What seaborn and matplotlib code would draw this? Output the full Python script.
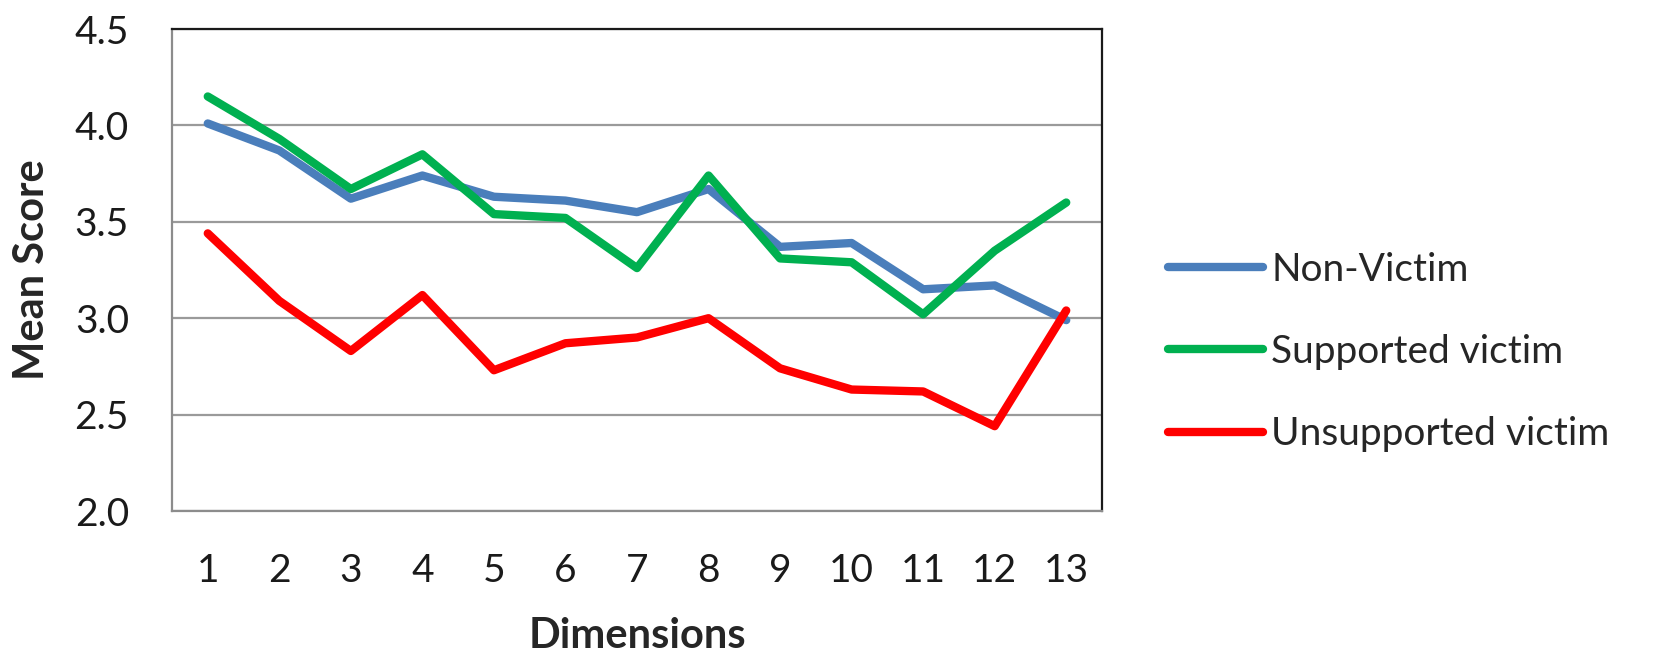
import pandas as pd
import matplotlib
matplotlib.use('Agg')
import matplotlib.pyplot as plt
import seaborn as sns

# Значения
dimensions = list(range(1, 14))
non_victim = [4.01, 3.87, 3.62, 3.74, 3.63, 3.61, 3.55, 3.67, 3.37, 3.39, 3.15, 3.17, 2.99]
supported_victim = [4.15, 3.93, 3.67, 3.85, 3.54, 3.52, 3.26, 3.74, 3.31, 3.29, 3.02, 3.35, 3.60]
unsupported_victim = [3.44, 3.09, 2.83, 3.12, 2.73, 2.87, 2.90, 3.00, 2.74, 2.63, 2.62, 2.44, 3.04]
series_names = ['Non-Victim', 'Supported victim', 'Unsupported victim']
colors = ['#4A7EBB', '#00B050', '#FF0000']
y_ticks = [2.0, 2.5, 3.0, 3.5, 4.0, 4.5]

data = pd.DataFrame({
    'Dimension': dimensions * 3,
    'Score': non_victim + supported_victim + unsupported_victim,
    'Group': [series_names[0]] * 13 + [series_names[1]] * 13 + [series_names[2]] * 13,
})

sns.set_style('white')
plt.rcParams['font.family'] = ['Lato', 'DejaVu Sans']

fig = plt.figure(figsize=(16.56, 6.53), dpi=100)
ax = fig.add_axes([172 / 1656, 1 - 511 / 653, 930 / 1656, (511 - 29) / 653])

sns.lineplot(data=data, x='Dimension', y='Score', hue='Group', palette=colors,
             linewidth=6, ax=ax, legend=True)

ax.set_xlim(0.5, 13.5)
ax.set_ylim(2.0, 4.5)
ax.set_xticks(dimensions)
ax.set_yticks(y_ticks)
ax.set_yticklabels([f'{v:.1f}' for v in y_ticks])
ax.tick_params(axis='both', length=0, labelsize=28, colors='#1a1a1a')
ax.tick_params(axis='y', pad=31)
ax.tick_params(axis='x', pad=30)
ax.yaxis.grid(True, color='#9a9a9a', linewidth=1.6)
ax.set_axisbelow(True)

for side in ['left', 'bottom']:
    ax.spines[side].set_color('#8c8c8c')
    ax.spines[side].set_linewidth(1.6)
for side in ['top', 'right']:
    ax.spines[side].set_color('#1a1a1a')
    ax.spines[side].set_linewidth(1.6)

# Подписи осей
ax.set_xlabel('Dimensions', fontsize=30, fontweight='bold', va='center')
ax.set_ylabel('Mean Score', fontsize=30, fontweight='bold', va='center')
ax.xaxis.set_label_coords(0.5, (511 - 636) / 482)
ax.yaxis.set_label_coords((32 - 172) / 930, 0.5)

leg = ax.legend(loc='center left', bbox_to_anchor=(1168 / 1656, 1 - 352 / 653),
                bbox_transform=fig.transFigure, frameon=False, fontsize=28,
                handlelength=2.45, handletextpad=0.2, labelspacing=1.19,
                borderpad=0, borderaxespad=0)
for line in leg.get_lines():
    line.set_linewidth(6)
    line.set_solid_capstyle('round')

fig.savefig('out.png', dpi=100)
